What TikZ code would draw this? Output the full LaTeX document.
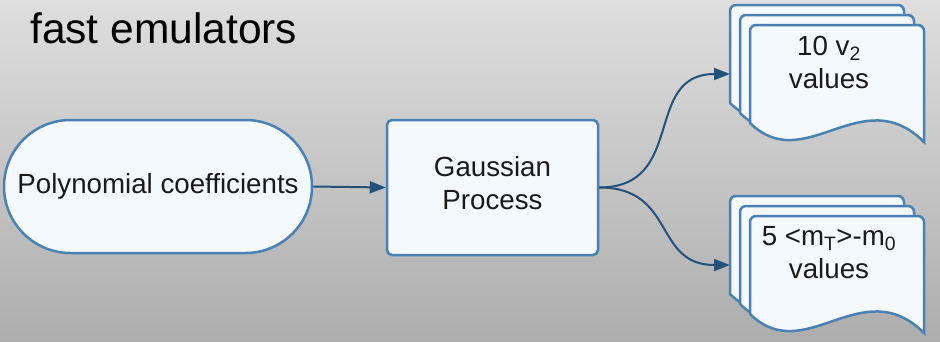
\documentclass[tikz,border=0pt]{standalone}
\usepackage{fontspec}
\setmainfont{Liberation Sans}
\usetikzlibrary{arrows.meta}
\definecolor{bgTop}{HTML}{DEDEDE}
\definecolor{bgBottom}{HTML}{ADADAD}
\definecolor{edge}{HTML}{4B80B3}
\definecolor{paper}{HTML}{F4F9FE}
\definecolor{flow}{HTML}{24507A}
\definecolor{ink}{HTML}{1A1A1A}
\tikzset{
  base/.style={text=ink, font=\fontsize{27.7}{33}\selectfont},
  title/.style={base, font=\fontsize{42.5}{48}\selectfont, text=black, inner sep=0pt},
  box/.style={base, draw=edge, fill=paper, line width=2.5pt, align=center, inner sep=0pt},
  terminal/.style={box, rounded corners=66.5pt},
  process/.style={box, rounded corners=5pt},
  sheet/.style={draw=edge, fill=paper, line width=2.5pt},
  doctext/.style={base, align=center, inner sep=0pt},
  arrow/.style={-{Triangle[length=16pt,width=12pt]}, line width=2pt, draw=flow},
  % stack of three pages with a wavy lower edge
  docstack/.pic={
    \foreach \d in {0,10,20}{
      \draw[sheet,shift={(\d,\d)}] (0,98) [rounded corners=6pt] -- (0,0) -- (174,0)
        [sharp corners] -- (174,117) .. controls (112,55) and (55,152) .. (0,98) -- cycle;
    }
    \coordinate (-in) at (0,69);
  },
}
\begin{document}
\begin{tikzpicture}[x=1pt,y=-1pt]
  \shade[top color=bgTop, bottom color=bgBottom] (0,0) rectangle (940,341);
  \useasboundingbox (0,0) rectangle (940,341);

  \node[title,anchor=base west] (head) at (30,43) {fast emulators};

  \node[terminal,minimum width=308pt,minimum height=133pt] (coef) at (158,186.5) {Polynomial coefficients};
  \node[process,minimum width=211pt,minimum height=135pt,text depth=10pt] (gp) at (492.5,187.5) {Gaussian\\Process};
  \draw[arrow] (coef.east) -- (gp.west);

  \pic (vtwo) at (730,5) {docstack};
  \pic (mtee) at (730,196) {docstack};
  \node[doctext] (vtwotxt) at (829,62) {10 v\textsubscript{2}\\values};
  \node[doctext] (mteetxt) at (829,253) {5 <m\textsubscript{T}>-m\textsubscript{0}\\values};

  \draw[arrow] (gp.east) to[out=0,in=180,looseness=1.3] (vtwo-in);
  \draw[arrow] (gp.east) to[out=0,in=180,looseness=1.3] (mtee-in);
\end{tikzpicture}
\end{document}
